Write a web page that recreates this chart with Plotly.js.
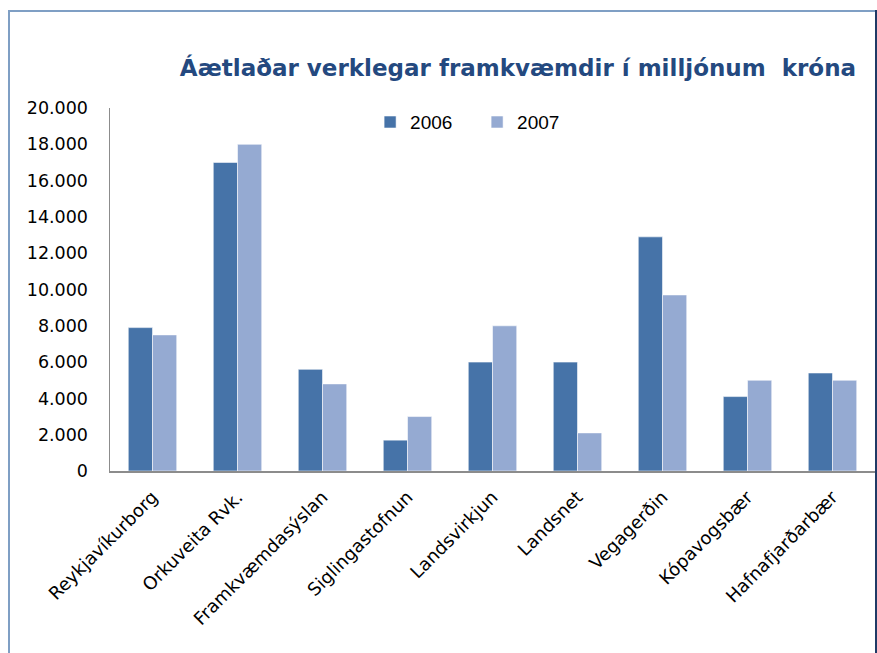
<!DOCTYPE html>
<html>
<head>
<meta charset="utf-8">
<script src="https://cdn.plot.ly/plotly-3.0.1.min.js"></script>
<style>
  html, body { margin: 0; padding: 0; background: #ffffff; }
  #wrap { position: relative; width: 877px; height: 653px; overflow: hidden; }
  #chart { position: absolute; left: 0; top: 0; width: 877px; height: 653px; }
  .bl { position: absolute; left: 8px; top: 10px; width: 2px; height: 643px; background: #7f9fc4; }
  .bt { position: absolute; left: 8px; top: 10px; width: 869px; height: 2px; background: #7f9fc4; }
  .br { position: absolute; left: 875px; top: 10px; width: 2px; height: 643px; background: #1f3a66; }
</style>
</head>
<body>
<div id="wrap">
  <div id="chart"></div>
  <div class="bl"></div><div class="bt"></div><div class="br"></div>
</div>
<script>
const categories = ["Reykjavíkurborg", "Orkuveita Rvk.", "Framkvæmdasýslan", "Siglingastofnun",
  "Landsvirkjun", "Landsnet", "Vegagerðin", "Kópavogsbær", "Hafnafjarðarbær"];
const values2006 = [7900, 17000, 5600, 1700, 6000, 6000, 12900, 4100, 5400];
const values2007 = [7500, 18000, 4800, 3000, 8000, 2100, 9700, 5000, 5000];
const seriesNames = ["2006", "2007"];
const yTickVals = [0, 2000, 4000, 6000, 8000, 10000, 12000, 14000, 16000, 18000, 20000];
const titleText = "Áætlaðar verklegar framkvæmdir í milljónum  króna";

const traces = [
  { type: "bar", name: seriesNames[0], x: categories, y: values2006,
    marker: { color: "#4673a8", line: { color: "rgba(255,255,255,0.55)", width: 1 } } },
  { type: "bar", name: seriesNames[1], x: categories, y: values2007,
    marker: { color: "#95aad2", line: { color: "rgba(255,255,255,0.55)", width: 1 } } }
];

const layout = {
  width: 877, height: 653,
  margin: { l: 110, r: 2, t: 108, b: 182, pad: 0 },
  paper_bgcolor: "#ffffff", plot_bgcolor: "#ffffff",
  separators: ",.",
  barmode: "group", bargap: 0.43, bargroupgap: 0,
  font: { family: "DejaVu Sans, Verdana, sans-serif", color: "#000000", size: 17 },
  title: {
    text: titleText,
    font: { family: "DejaVu Sans, Verdana, sans-serif", size: 23, color: "#24497f", weight: "bold" },
    x: 0.5906, xref: "container", xanchor: "center",
    y: 0.896, yref: "container", yanchor: "middle"
  },
  showlegend: true,
  legend: {
    orientation: "h", x: 0.340, xanchor: "left", y: 0.961, yanchor: "middle",
    font: { family: "Liberation Sans, Arial, sans-serif", size: 19, color: "#000000" },
    bgcolor: "rgba(0,0,0,0)", borderwidth: 0,
    entrywidth: 62, entrywidthmode: "pixels", traceorder: "normal"
  },
  xaxis: {
    type: "category", tickangle: -45, showgrid: false, zeroline: false,
    showline: true, linecolor: "#8c8c8c", linewidth: 1.5, ticks: "",
    ticklabelstandoff: 7,
    tickfont: { family: "DejaVu Sans, Verdana, sans-serif", size: 18, color: "#000000" }
  },
  yaxis: {
    range: [0, 20000], tickvals: yTickVals, tickformat: ",d",
    showgrid: false, zeroline: false, showline: true, linecolor: "#8c8c8c", linewidth: 1.5,
    ticks: "", ticklabelstandoff: 17,
    tickfont: { family: "DejaVu Sans, Verdana, sans-serif", size: 17.5, color: "#000000" }
  }
};

Plotly.newPlot("chart", traces, layout, { staticPlot: true, displayModeBar: false });
</script>
</body>
</html>
